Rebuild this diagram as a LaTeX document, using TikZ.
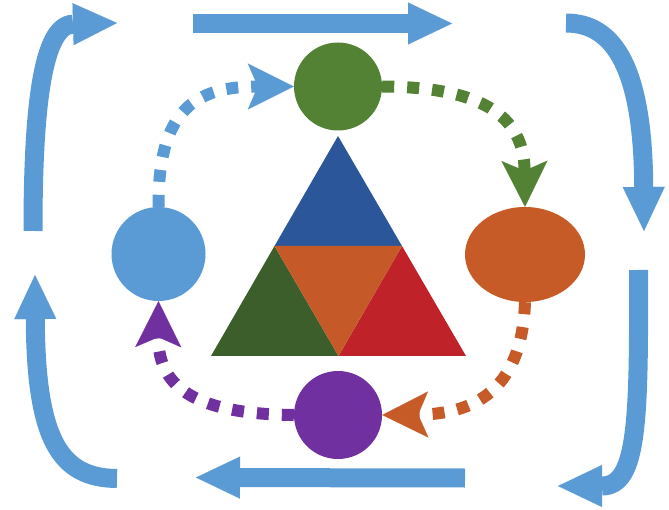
\documentclass[tikz,border=0pt]{standalone}
\usetikzlibrary{arrows.meta,shapes.geometric}
\definecolor{lblue}{HTML}{5B9BD5}
\definecolor{cgreen}{HTML}{548235}
\definecolor{corange}{HTML}{C65B27}
\definecolor{cpurple}{HTML}{7030A0}
\definecolor{tblue}{HTML}{2B579A}
\definecolor{tgreen}{HTML}{3B5E2B}
\definecolor{torange}{HTML}{C55A28}
\definecolor{tred}{HTML}{C0222A}
\tikzset{
  blob/.style={circle, inner sep=0pt, minimum size=#1, draw=none},
  dotarrow/.style={line width=12pt, dash pattern=on 12pt off 13pt,
    -{Stealth[length=46pt,width=46pt,inset=10pt,line width=0.1pt]}},
  bigarrow/.style={line width=19pt, draw=lblue,
    -{Triangle[length=44pt,width=42pt,line width=0.1pt]}},
}
\begin{document}
\begin{tikzpicture}[x=1pt,y=-1pt]
\useasboundingbox (0,0) rectangle (669,510);
% central triangle
\coordinate (A) at (338,136);
\coordinate (B) at (211,356);
\coordinate (C) at (466,356);
\coordinate (AB) at (274.5,246);
\coordinate (AC) at (402,246);
\coordinate (BC) at (338.5,356);
\fill[tblue] (A) -- (AB) -- (AC) -- cycle;
\fill[tgreen] (AB) -- (B) -- (BC) -- cycle;
\fill[tred] (AC) -- (BC) -- (C) -- cycle;
\fill[torange] (AB) -- (AC) -- (BC) -- cycle;
% circles
\node[blob=88pt, fill=cgreen] (gc) at (338,86.5) {};
\node[blob=94pt, fill=lblue] (bc) at (158.5,254) {};
\node[blob=88pt, fill=cpurple] (pc) at (338,415) {};
\node[ellipse, inner sep=0pt, minimum width=120pt, minimum height=95pt, fill=corange] (oe) at (525,254.5) {};
% dotted connectors
\draw[dotarrow, lblue] (bc.north) .. controls (158,110) and (195,86.5) .. (gc.west);
\draw[dotarrow, cgreen] (gc.east) .. controls (480,87) and (524,115) .. (oe.north);
\draw[dotarrow, corange] (oe.south) .. controls (522,385) and (480,414) .. (pc.east);
\draw[dotarrow, cpurple] (pc.west) .. controls (200,414) and (158,390) .. (bc.south);
% outer arrows
\coordinate (t0) at (193,23.5);
\coordinate (t1) at (452,23.5);
\coordinate (r0) at (566,23);
\coordinate (r1) at (644,231);
\coordinate (s0) at (638.5,270);
\coordinate (s1) at (558,486);
\coordinate (b0) at (465,478);
\coordinate (b1) at (196,477.5);
\coordinate (l0) at (117,478.5);
\coordinate (l1) at (35,275);
\coordinate (k0) at (33,231);
\coordinate (k1) at (117,23);
\draw[bigarrow] (t0) -- (t1);
\draw[bigarrow] (r0) .. controls (615,23) and (643,70) .. (r1);
\draw[bigarrow] (s0) .. controls (639,420) and (638,486) .. (s1);
\draw[bigarrow] (b0) -- (b1);
\draw[bigarrow] (l0) .. controls (60,478) and (36,440) .. (l1);
\draw[bigarrow] (k0) .. controls (33,110) and (42,25) .. (k1);
\end{tikzpicture}
\end{document}
